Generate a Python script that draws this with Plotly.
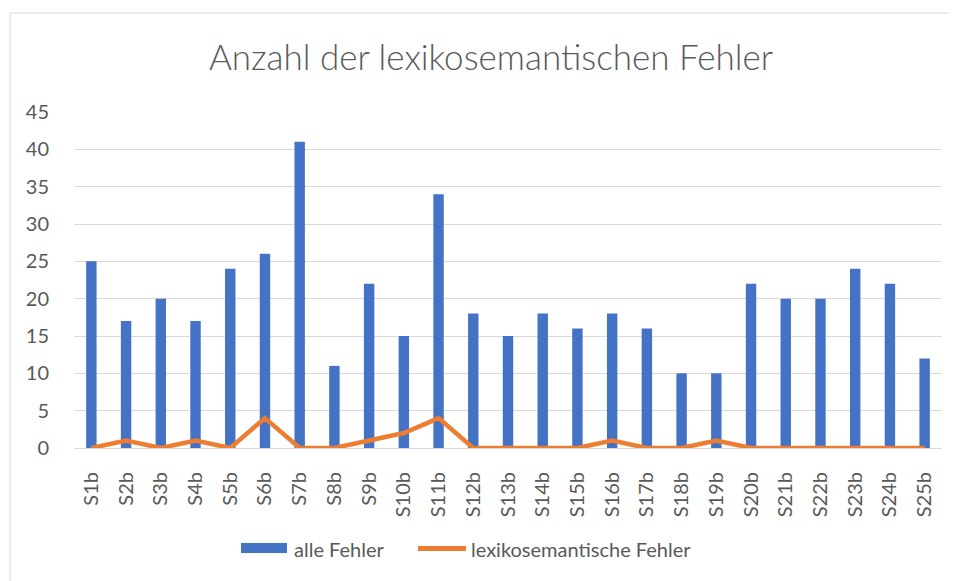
import plotly.graph_objects as go

categories = ["S1b", "S2b", "S3b", "S4b", "S5b", "S6b", "S7b", "S8b", "S9b", "S10b",
              "S11b", "S12b", "S13b", "S14b", "S15b", "S16b", "S17b", "S18b", "S19b",
              "S20b", "S21b", "S22b", "S23b", "S24b", "S25b"]
alle_fehler = [25, 17, 20, 17, 24, 26, 41, 11, 22, 15, 34, 18, 15, 18, 16, 18, 16, 10, 10,
               22, 20, 20, 24, 22, 12]
lexiko_fehler = [0, 1, 0, 1, 0, 4, 0, 0, 1, 2, 4, 0, 0, 0, 0, 1, 0, 0, 1, 0, 0, 0, 0, 0, 0]
y_ticks = [0, 5, 10, 15, 20, 25, 30, 35, 40, 45]
series_names = ["alle Fehler", "lexikosemantische Fehler"]

FONT = "Lato"
GREY = "#595959"
BLUE = "#4472C4"
ORANGE = "#ED7D31"

fig = go.Figure()
fig.add_trace(go.Bar(x=categories, y=alle_fehler, name=series_names[0],
                     marker=dict(color=BLUE, line=dict(width=0)), showlegend=False))
fig.add_trace(go.Scatter(x=categories, y=lexiko_fehler, name=series_names[1],
                         mode="lines", line=dict(color=ORANGE, width=4.5), showlegend=False))

# page is offset by 8px body margin
W, H = 949, 573
L, R, T, B = 66, 15, 104, 133
pw, ph = W - L - R, H - T - B


def px(xf):
    return (xf - L) / pw


def py(yf):
    return ((H - B) - yf) / ph


leg_y = 540.5
shapes = [
    dict(type="rect", xref="paper", yref="paper",
         x0=px(2), x1=px(W + 5), y0=py(H + 5), y1=py(5),
         line=dict(color="#D9D9D9", width=1), fillcolor="rgba(0,0,0,0)", layer="below"),
    dict(type="rect", xref="paper", yref="paper",
         x0=px(233), x1=px(279), y0=py(545), y1=py(535),
         line=dict(width=0), fillcolor=BLUE),
    dict(type="line", xref="paper", yref="paper",
         x0=px(410), x1=px(458), y0=py(leg_y), y1=py(leg_y),
         line=dict(color=ORANGE, width=5)),
]
annotations = [
    dict(text=series_names[0], xref="paper", yref="paper", x=px(284), y=py(leg_y),
         xanchor="left", yanchor="middle", showarrow=False,
         font=dict(family=FONT, size=20, color=GREY)),
    dict(text=series_names[1], xref="paper", yref="paper", x=px(461), y=py(leg_y),
         xanchor="left", yanchor="middle", showarrow=False,
         font=dict(family=FONT, size=20, color=GREY)),
]

fig.update_layout(
    width=W, height=H,
    margin=dict(l=L, r=R, t=T, b=B),
    paper_bgcolor="white", plot_bgcolor="white",
    bargap=0.70,
    font=dict(family=FONT, color=GREY, size=20),
    title=dict(text="Anzahl der lexikosemantischen Fehler", x=px(483), xanchor="center",
               xref="paper", y=1 - 50 / H, yanchor="middle",
               font=dict(family=FONT, size=35, color=GREY, weight=300)),
    xaxis=dict(tickangle=-90, showgrid=False, showline=True, linecolor="#D9D9D9",
               linewidth=1, ticks="", tickfont=dict(size=20, color=GREY),
               ticklabelstandoff=15),
    yaxis=dict(range=[0, 45], tickvals=y_ticks, showgrid=True, gridcolor="#D9D9D9",
               gridwidth=1, zeroline=False, showline=False, ticks="",
               tickfont=dict(size=20, color=GREY), ticklabelstandoff=24),
    showlegend=False,
    shapes=shapes,
    annotations=annotations,
)

fig.write_html("out.html")
